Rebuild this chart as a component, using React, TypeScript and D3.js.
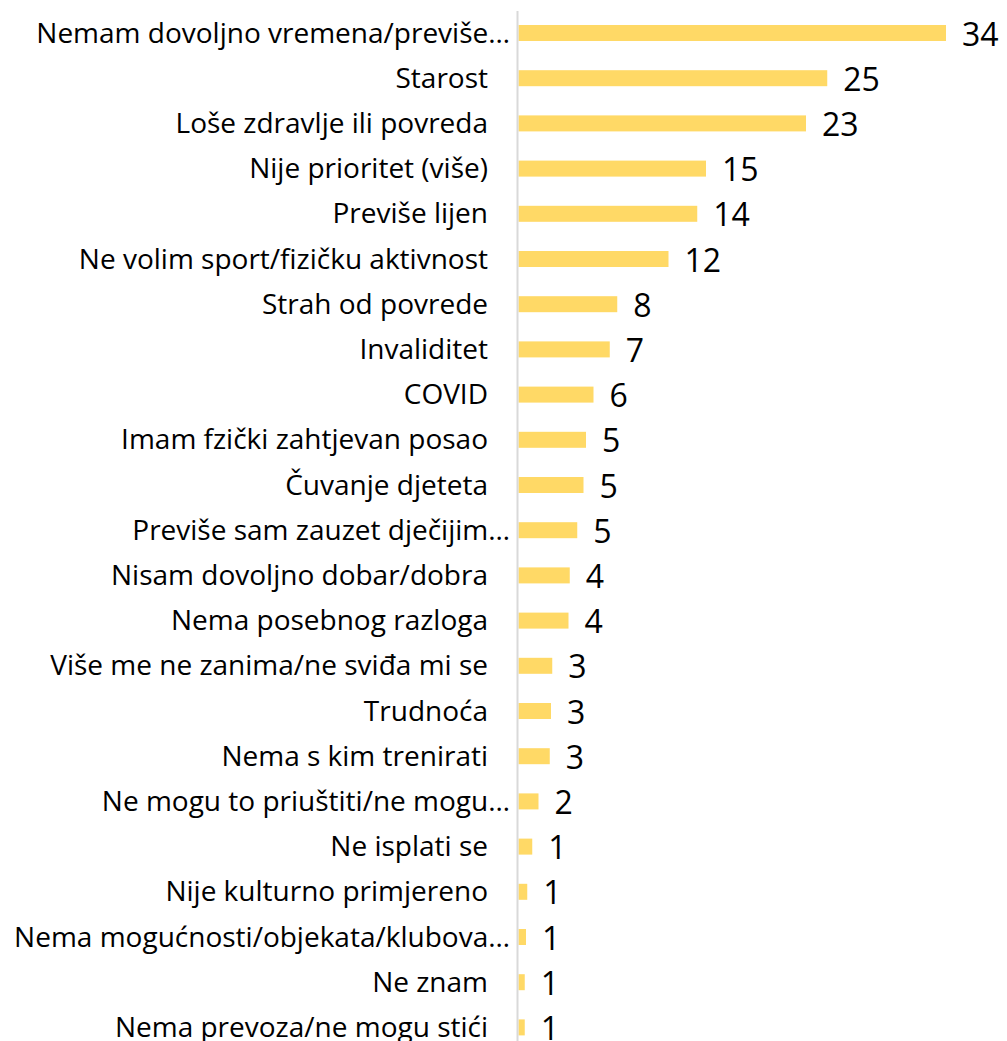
import React from "react";
import * as d3 from "d3";

const categories = [
  "Nemam dovoljno vremena/previše…",
  "Starost",
  "Loše zdravlje ili povreda",
  "Nije prioritet (više)",
  "Previše lijen",
  "Ne volim sport/fizičku aktivnost",
  "Strah od povrede",
  "Invaliditet",
  "COVID",
  "Imam fzički zahtjevan posao",
  "Čuvanje djeteta",
  "Previše sam zauzet dječijim…",
  "Nisam dovoljno dobar/dobra",
  "Nema posebnog razloga",
  "Više me ne zanima/ne sviđa mi se",
  "Trudnoća",
  "Nema s kim trenirati",
  "Ne mogu to priuštiti/ne mogu…",
  "Ne isplati se",
  "Nije kulturno primjereno",
  "Nema mogućnosti/objekata/klubova…",
  "Ne znam",
  "Nema prevoza/ne mogu stići",
];

const values = [
  34.2, 24.7, 23.0, 15.0, 14.3, 12.0, 7.9, 7.3, 6.0, 5.4, 5.2, 4.7, 4.1, 4.0,
  2.7, 2.6, 2.5, 1.6, 1.1, 0.7, 0.6, 0.5, 0.5,
];

const valueLabels = [
  "34", "25", "23", "15", "14", "12", "8", "7", "6", "5", "5", "5", "4", "4",
  "3", "3", "3", "2", "1", "1", "1", "1", "1",
];

const W = 1007;
const H = 1041;
const FONT = "'Open Sans', 'Noto Sans', sans-serif";

export default function App() {
  const x0 = 518.5;
  const x = d3.scaleLinear().domain([0, 10]).range([x0, x0 + 125]);
  const step = 45.2;
  const top = 33 - step / 2;
  const y = d3
    .scaleBand<string>()
    .domain(categories)
    .range([top, top + step * categories.length])
    .paddingInner(0.646)
    .paddingOuter(0.323);

  return (
    <svg
      width={W}
      height={H}
      style={{ position: "absolute", left: 0, top: 0, background: "#fff" }}
    >
      {categories.map((c, i) => {
        const yc = (y(c) as number) + y.bandwidth() / 2;
        const trunc = c.endsWith("…");
        return (
          <g key={c}>
            <rect
              x={x(0)}
              y={y(c)}
              width={x(values[i]) - x(0)}
              height={y.bandwidth()}
              fill="#FFD966"
            />
            <text
              x={trunc ? 510 : 488}
              y={yc + 9.5}
              textAnchor="end"
              fontFamily={FONT}
              fontSize={28}
              fill="#000"
            >
              {c}
            </text>
            <text
              x={x(values[i]) + 16}
              y={yc + 12.5}
              fontFamily={FONT}
              fontSize={32}
              fill="#000"
            >
              {valueLabels[i]}
            </text>
          </g>
        );
      })}
      <line
        x1={517.5}
        x2={517.5}
        y1={11}
        y2={H}
        stroke="#D9D9D9"
        strokeWidth={2}
      />
    </svg>
  );
}
